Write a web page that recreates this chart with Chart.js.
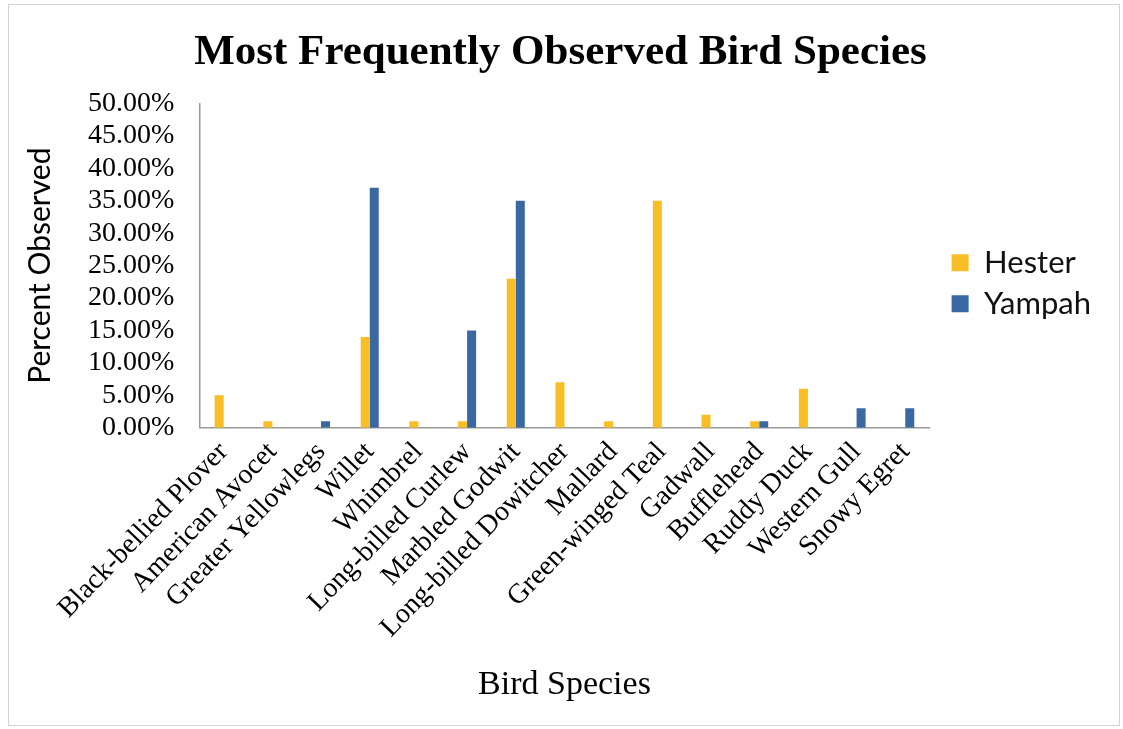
<!DOCTYPE html>
<html>
<head>
<meta charset="utf-8">
<script src="https://cdn.jsdelivr.net/npm/chart.js@4/dist/chart.umd.min.js"></script>
<style>
  html, body { margin: 0; padding: 0; background: #fff; }
  .chart-container {
    position: absolute; left: 8px; top: 4px;
    width: 1112px; height: 722px;
    border: 1px solid #d4d4d4; box-sizing: border-box;
  }
</style>
</head>
<body>
<div class="chart-container"><canvas id="graficoAves"></canvas></div>
<script>
const especies = ['Black-bellied Plover', 'American Avocet', 'Greater Yellowlegs', 'Willet', 'Whimbrel',
  'Long-billed Curlew', 'Marbled Godwit', 'Long-billed Dowitcher', 'Mallard', 'Green-winged Teal',
  'Gadwall', 'Bufflehead', 'Ruddy Duck', 'Western Gull', 'Snowy Egret'];
const hester = [5, 1, 0, 14, 1, 1, 23, 7, 1, 35, 2, 1, 6, 0, 0];
const yampah = [0, 0, 1, 37, 0, 15, 35, 0, 0, 0, 0, 1, 0, 3, 3];
const yTicks = [0, 5, 10, 15, 20, 25, 30, 35, 40, 45, 50];

document.addEventListener('DOMContentLoaded', function() {
    const ctx = document.getElementById('graficoAves').getContext('2d');
    new Chart(ctx, {
        type: 'bar',
        data: {
            labels: especies,
            datasets: [{
                label: 'Hester',
                data: hester,
                backgroundColor: '#F9BE26'
            }, {
                label: 'Yampah',
                data: yampah,
                backgroundColor: '#3A68A3'
            }]
        },
        options: {
            responsive: true,
            maintainAspectRatio: false,
            animation: false,
            layout: { padding: { left: 11, right: 18, top: 0, bottom: 16 } },
            datasets: { bar: { categoryPercentage: 0.37, barPercentage: 1 } },
            plugins: {
                title: {
                    display: true,
                    text: 'Most Frequently Observed Bird Species',
                    color: '#000',
                    font: { family: 'Liberation Serif', size: 43, weight: 'bold' },
                    padding: { top: 22, bottom: 25 }
                },
                legend: {
                    position: 'right',
                    fullSize: false,
                    // empty title only pushes the entries a little lower
                    title: { display: true, text: '', font: { size: 10 }, padding: { top: 12, bottom: 11 } },
                    labels: {
                        color: '#111',
                        font: { family: 'Lato', size: 31 },
                        boxWidth: 17, boxHeight: 17, padding: 10
                    }
                },
                tooltip: { enabled: false }
            },
            scales: {
                y: {
                    min: 0, max: 50,
                    afterBuildTicks: axis => { axis.ticks = yTicks.map(v => ({ value: v })); },
                    grid: { display: false, drawTicks: false },
                    border: { color: '#9a9a9a', width: 1.5 },
                    ticks: {
                        color: '#000', autoSkip: false,
                        padding: 25,
                        font: { family: 'Liberation Serif', size: 28 },
                        callback: v => v.toFixed(2) + '%'
                    },
                    title: {
                        display: true, text: 'Percent Observed', color: '#000',
                        font: { family: 'Lato', size: 30 }, padding: { top: 2, bottom: 5 }
                    }
                },
                // empty right axis, only to leave a gap before the legend
                y2: {
                    position: 'right',
                    grid: { display: false, drawTicks: false },
                    border: { display: false },
                    ticks: { display: false },
                    afterFit: axis => { axis.width = 12; }
                },
                x: {
                    grid: { display: false, drawTicks: false },
                    border: { color: '#9a9a9a', width: 1.5 },
                    ticks: {
                        color: '#000', autoSkip: false, minRotation: 46, maxRotation: 46, padding: 8,
                        font: { family: 'Liberation Serif', size: 28 }
                    },
                    title: {
                        display: true, text: 'Bird Species', color: '#000',
                        font: { family: 'Liberation Serif', size: 34 }, padding: { top: 12 }
                    }
                }
            }
        }
    });
});
</script>
</body>
</html>
